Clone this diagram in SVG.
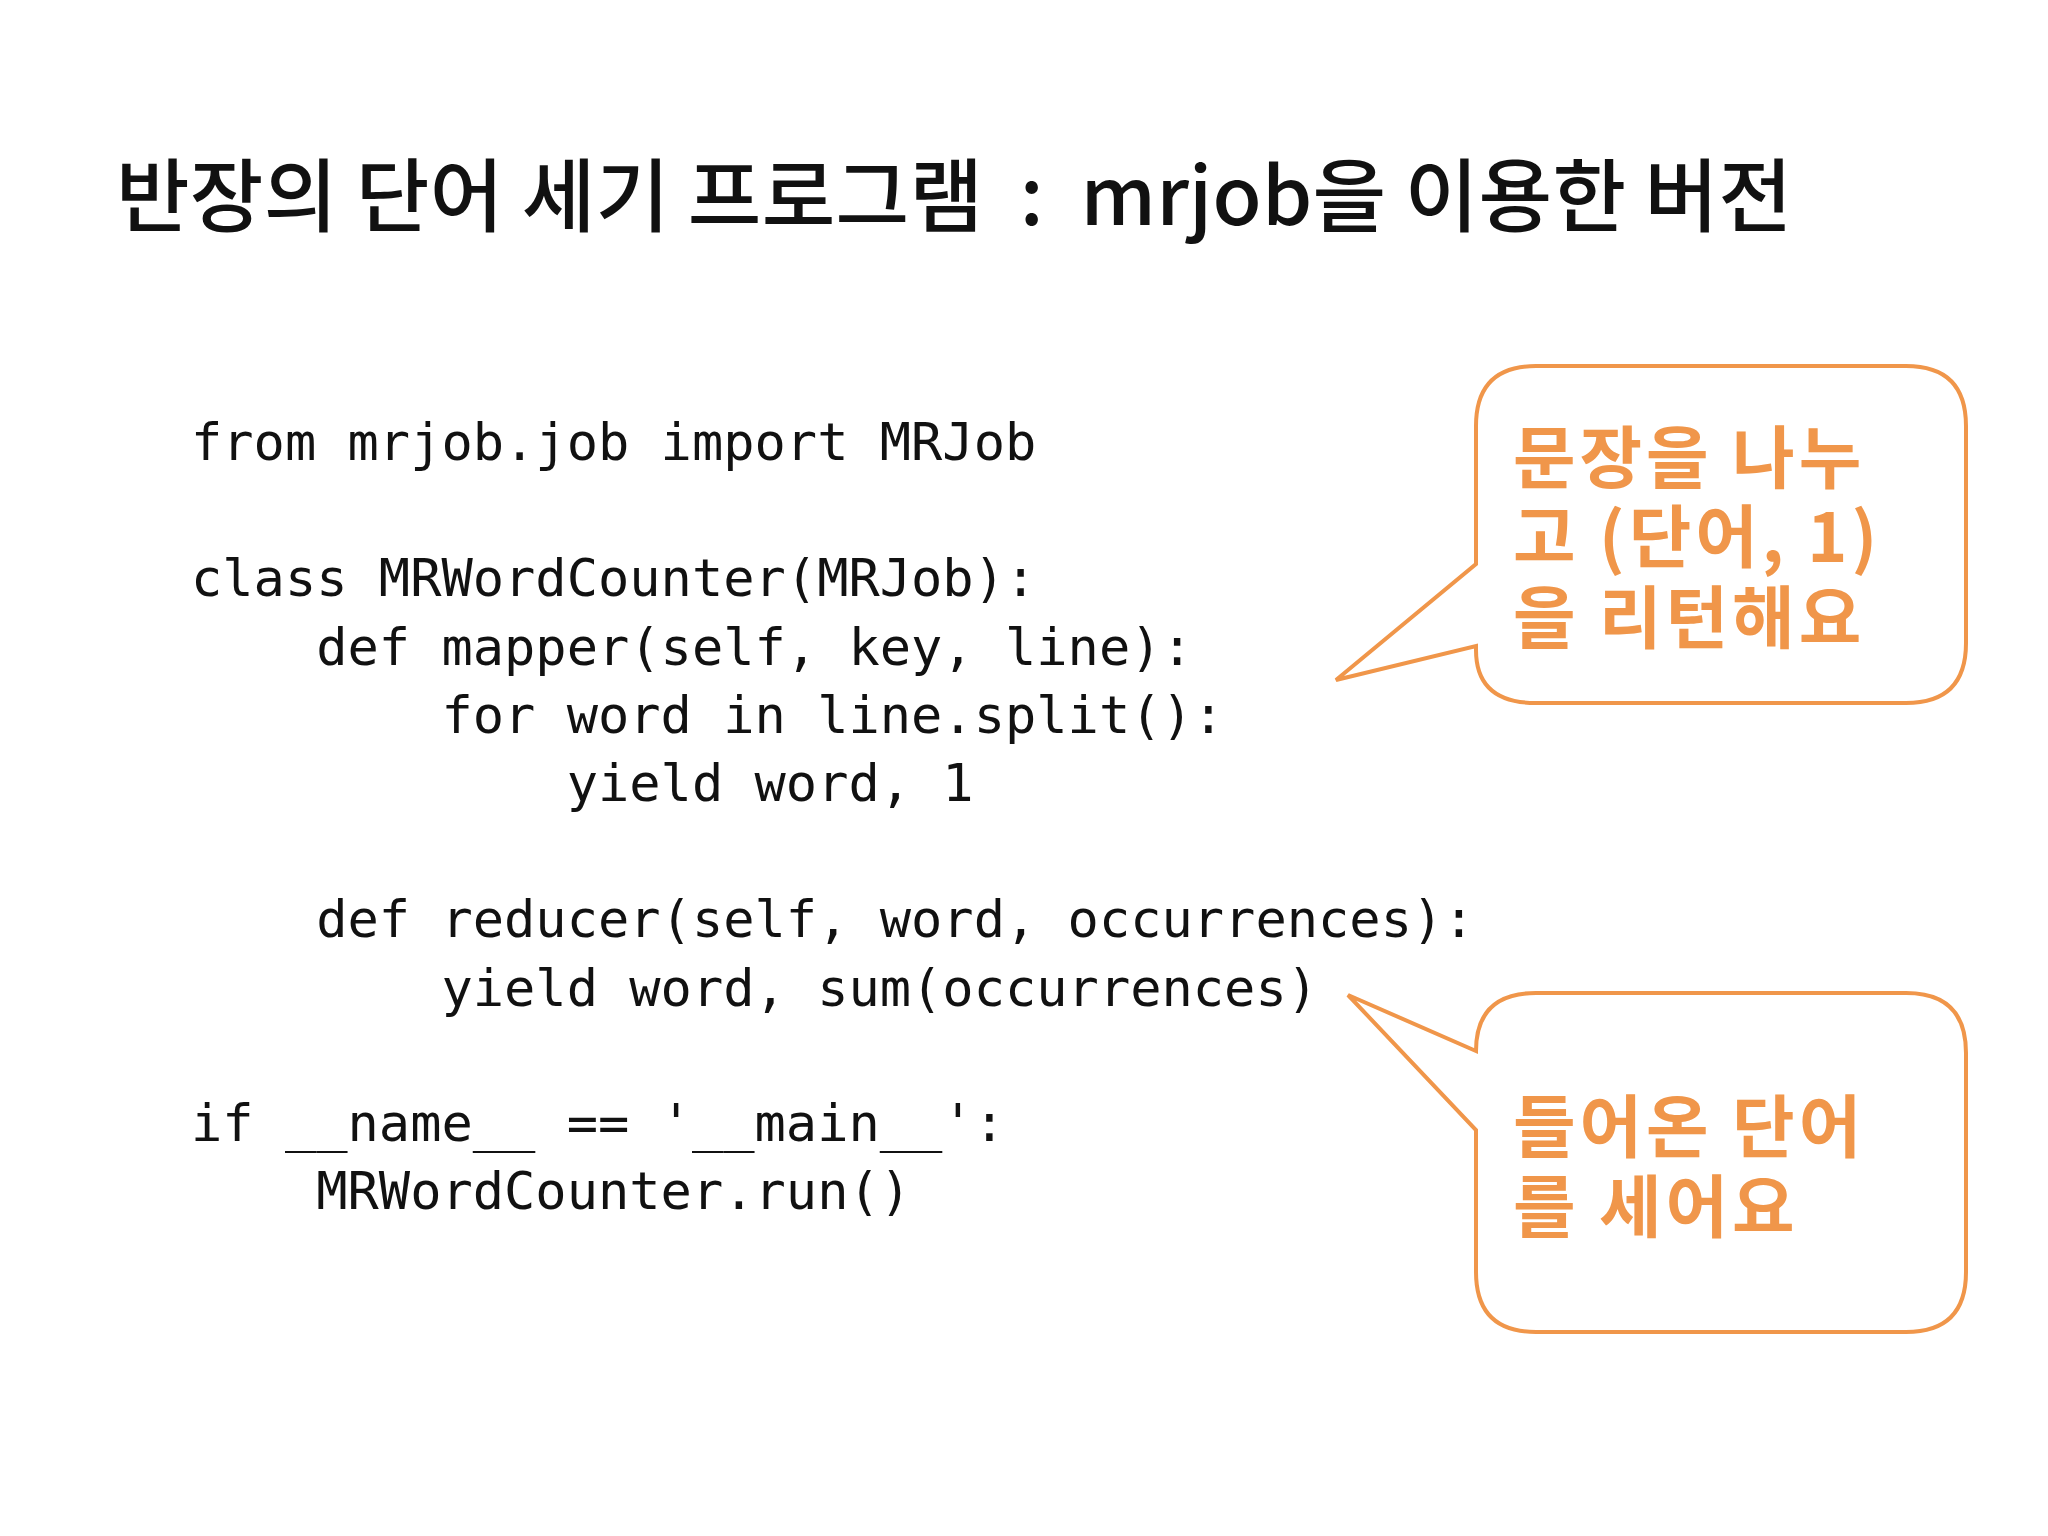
<svg xmlns="http://www.w3.org/2000/svg" width="2048" height="1536" viewBox="0 0 2048 1536">
<style>
.title{font-family:"Noto Sans CJK KR","Noto Sans",sans-serif;font-size:80px;font-weight:500;fill:#111}
.code{font-family:"DejaVu Sans Mono","Liberation Mono",monospace;font-size:52px;fill:#111;white-space:pre}
.bub{fill:#fff;stroke:#F0964A;stroke-width:4;stroke-linejoin:miter}
.bt{font-family:"Noto Sans CJK KR",sans-serif;font-size:68px;font-weight:700;fill:#F0964A;letter-spacing:4px}
</style>
<rect width="2048" height="1536" fill="#fff"/>
<text class="title" x="116" y="225" textLength="1676" lengthAdjust="spacing" xml:space="preserve">반장의 단어 세기 프로그램  :  mrjob을 이용한 버전</text>
<g id="code" xml:space="preserve">
<text class="code" x="191" y="460">from mrjob.job import MRJob</text>
<text class="code" x="191" y="596">class MRWordCounter(MRJob):</text>
<text class="code" x="191" y="665">    def mapper(self, key, line):</text>
<text class="code" x="191" y="733">        for word in line.split():</text>
<text class="code" x="191" y="801">            yield word, 1</text>
<text class="code" x="191" y="937">    def reducer(self, word, occurrences):</text>
<text class="code" x="191" y="1006">        yield word, sum(occurrences)</text>
<text class="code" x="191" y="1141">if __name__ == '__main__':</text>
<text class="code" x="191" y="1209">    MRWordCounter.run()</text>
</g>
<g id="bubble1">
<path class="bub" d="M1536,366 H1906 Q1966,366 1966,426 V643 Q1966,703 1906,703 H1536 Q1476,703 1476,650 L1476,646 L1336,680 L1476,564 V426 Q1476,366 1536,366 Z"/>
<text class="bt" x="1513" y="483">문장을 나누</text>
<text class="bt" x="1513" y="562">고 (단어, 1)</text>
<text class="bt" x="1513" y="643">을 리턴해요</text>
</g>
<g id="bubble2">
<path class="bub" d="M1536,993 H1906 Q1966,993 1966,1053 V1272 Q1966,1332 1906,1332 H1536 Q1476,1332 1476,1272 V1130 L1348,995 L1476,1051 Q1476,993 1536,993 Z"/>
<text class="bt" x="1513" y="1152">들어온 단어</text>
<text class="bt" x="1513" y="1232">를 세어요</text>
</g>
</svg>
